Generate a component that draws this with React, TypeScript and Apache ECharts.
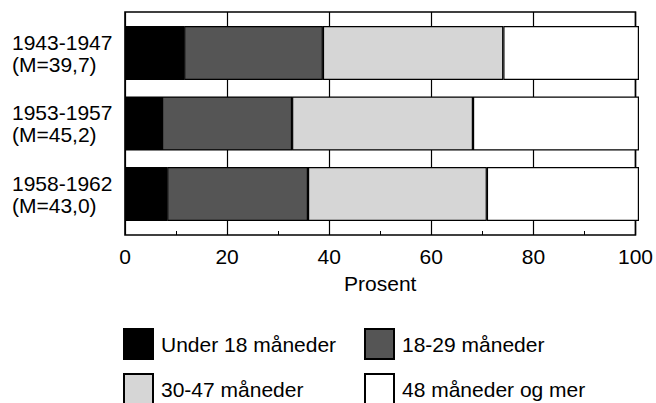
import React, { useEffect, useRef } from "react";
import * as echarts from "echarts";

const categories = ["1943-1947\n(M=39,7)", "1953-1957\n(M=45,2)", "1958-1962\n(M=43,0)"];
const seriesNames = ["Under 18 måneder", "18-29 måneder", "30-47 måneder", "48 måneder og mer"];
const under18 = [11.5, 7.2, 8.2];
const m18to29 = [27.0, 25.3, 27.4];
const m30to47 = [35.1, 35.2, 34.8];
const m48plus = [26.4, 32.3, 29.6];
const xTicks = [0, 20, 40, 60, 80, 100];
const axisTitle = "Prosent";

const FONT = "'Liberation Sans Narrow', 'Liberation Sans', Arial, sans-serif";
const FS = 21;
const colors = ["#000000", "#555555", "#d6d6d6", "#ffffff"];

export default function App() {
  const ref = useRef<HTMLDivElement>(null);
  useEffect(() => {
    if (!ref.current) return;
    const chart = echarts.init(ref.current, null, { renderer: "svg" });
    const values = [under18, m18to29, m30to47, m48plus];
    const legendPos = [
      { left: 123, top: 328 },
      { left: 364, top: 328 },
      { left: 123, top: 373 },
      { left: 364, top: 373 },
    ];
    chart.setOption({
      animation: false,
      backgroundColor: "#ffffff",
      textStyle: { fontFamily: FONT, color: "#000" },
      grid: [
        {
          left: 125, right: 17, top: 12, bottom: 168,
          show: true, borderColor: "#000", borderWidth: 1.6, backgroundColor: "transparent",
        },
        { left: 125, right: 17, top: 17.75, bottom: 173.75 },
      ],
      xAxis: [
        {
          gridIndex: 0, type: "value", min: xTicks[0], max: xTicks[xTicks.length - 1], interval: 20,
          name: axisTitle, nameLocation: "middle", nameGap: 38,
          nameTextStyle: { fontFamily: FONT, fontSize: FS, color: "#000" },
          axisLine: { show: false },
          axisTick: { show: true, inside: true, length: 4, lineStyle: { color: "#000" } },
          minorTick: { show: true, splitNumber: 2, length: 4, lineStyle: { color: "#000", width: 1 } },
          axisLabel: { fontFamily: FONT, fontSize: FS, color: "#000", margin: 11 },
          splitLine: { show: true, lineStyle: { color: "#000", width: 1.2 } },
        },
        { gridIndex: 1, type: "value", min: 0, max: 100, show: false },
      ],
      yAxis: [
        { gridIndex: 0, type: "value", min: 0, max: 1, show: false },
        {
          gridIndex: 1, type: "category", data: categories, inverse: true,
          axisLine: { show: false }, axisTick: { show: false },
          axisLabel: {
            fontFamily: FONT, fontSize: FS, color: "#000", align: "left", margin: 113, lineHeight: 22,
          },
        },
      ],
      legend: seriesNames.map((n, i) => ({
        data: [n], ...legendPos[i], orient: "horizontal", padding: 0,
        itemWidth: 29, itemHeight: 30, icon: "rect", selectedMode: false,
        textStyle: { fontFamily: FONT, fontSize: FS, color: "#000", padding: [0, 0, 0, 3] },
      })),
      series: seriesNames.map((n, i) => ({
        name: n, type: "bar", stack: "total", xAxisIndex: 1, yAxisIndex: 1,
        barWidth: 54, data: values[i],
        itemStyle: { color: colors[i], borderColor: "#000", borderWidth: 1.2 },
      })),
    });
    return () => chart.dispose();
  }, []);
  return <div ref={ref} style={{ position: "fixed", left: 0, top: 0, width: 656, height: 403 }} />;
}
